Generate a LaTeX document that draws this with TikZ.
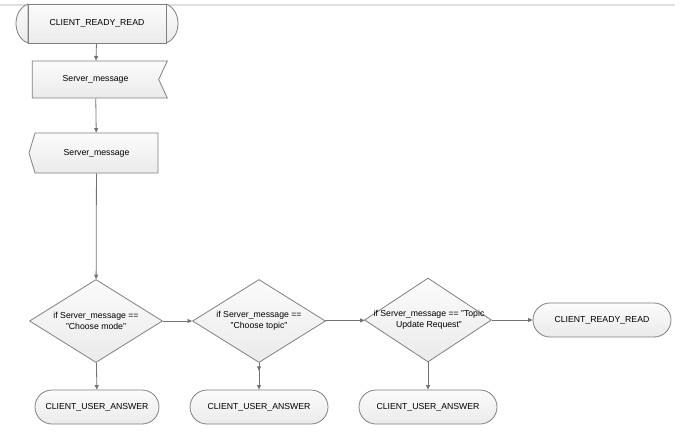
\documentclass[tikz,border=0pt]{standalone}
\usepackage{fontspec}
\setmainfont{Liberation Sans}
\usetikzlibrary{shapes.geometric,shapes.symbols,arrows.meta,calc}
\begin{document}
\begin{tikzpicture}[x=1pt,y=-1pt,
        box/.style={draw=black!50,line width=0.8pt,top color=gray!3,bottom color=gray!16,inner sep=0pt,font=\fontsize{8.7}{11}\selectfont},
        term/.style={box,rounded corners=17pt,minimum width=138pt,minimum height=34pt},
        cond/.style={box,diamond,minimum width=133pt,minimum height=83pt,aspect=1.6},
        txt/.style={align=center,inner sep=0pt,font=\fontsize{8.7}{11}\selectfont},
        flow/.style={draw=black!55,line width=0.8pt,-{Triangle[length=4.5pt,width=4pt]}}]
        \useasboundingbox (0,0) rectangle (685,436);
        \draw[gray!25,line width=1.2pt] (0,5) -- (675,5);
        \draw[box,fill=gray!5] (28,4) .. controls (12,10) and (12,37) .. (28,43) -- cycle;
        \draw[box,fill=gray!5] (166,4) .. controls (182,10) and (182,37) .. (166,43) -- cycle;
        \node[box,minimum width=138pt,minimum height=39pt] (start) at (97,23.5) {CLIENT\_READY\_READ};
        \node[box,signal,signal from=east,signal to=nowhere,signal pointer angle=130,
            minimum width=135pt,minimum height=37pt] (send) at (95.5,79.5) {Server\_message};
        \node[box,signal,signal to=west,signal from=nowhere,signal pointer angle=146,
            minimum width=129pt,minimum height=40pt] (recv) at (96.5,153) {Server\_message};
        \node[cond] (d1) at (96,321) {};
        \node[txt] (t1) at (d1) {if Server\_message ==\\"Choose mode"};
        \node[cond] (d2) at (259,321) {};
        \node[txt] (t2) at (d2) {if Server\_message ==\\"Choose topic"};
        \node[cond,minimum width=127pt,minimum height=84pt,aspect=1.5] (d3) at (428,320) {};
        \node[txt] (t3) at (429,320) {if Server\_message == "Topic\\Update Request"};
        \node[term] (ready) at (602,320) {CLIENT\_READY\_READ};
        \node[term,minimum width=124pt] (ans1) at (97,407) {CLIENT\_USER\_ANSWER};
        \node[term] (ans2) at (259,407) {CLIENT\_USER\_ANSWER};
        \node[term] (ans3) at (428,407) {CLIENT\_USER\_ANSWER};
        \coordinate (mid2) at ($(d2.south)!0.3!(ans2.north)$);
        \path[flow] (start) -- (send);
        \path[flow] (send) -- (recv);
        \path[flow] (recv) -- (d1);
        \path[flow] (d1) -- (d2);
        \path[flow] (d2) -- (d3);
        \path[flow] (d3) -- (ready);
        \path[flow] (d1) -- (ans1);
        \path[flow] (d2.south) -- (mid2);
        \path[flow] (d2) -- (ans2);
        \path[flow] (d3) -- (ans3);
    \end{tikzpicture}
\end{document}
